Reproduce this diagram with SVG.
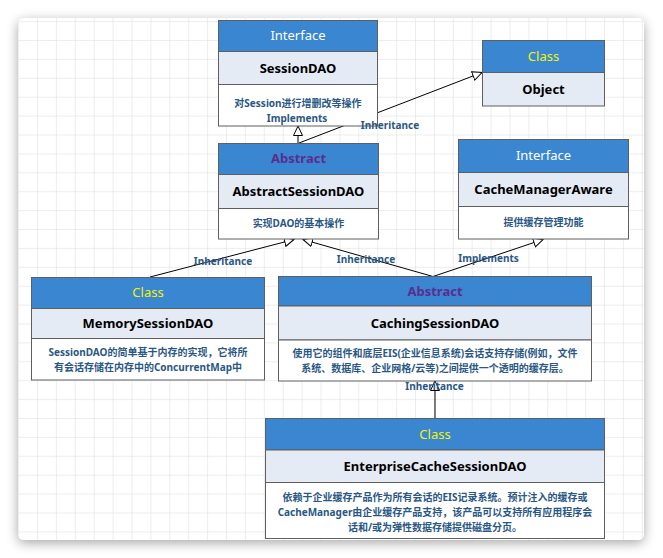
<svg xmlns="http://www.w3.org/2000/svg" width="663" height="558" viewBox="0 0 663 558">
<defs>
<filter id="sh" x="-10%" y="-10%" width="120%" height="120%">
<feDropShadow dx="0" dy="3" stdDeviation="6" flood-color="#000" flood-opacity="0.35"/>
</filter>
<pattern id="grid" patternUnits="userSpaceOnUse" x="18.1" y="21.1" width="18.9" height="18.9">
<path d="M0,0 H18.9 M0,0 V18.9" stroke="#dcdcdc" stroke-width="1" fill="none"/>
</pattern>
<marker id="tri" markerUnits="userSpaceOnUse" markerWidth="12" markerHeight="12" refX="10" refY="5" orient="auto">
<path d="M0.5,0.5 L10,5 L0.5,9.5 z" fill="#fff" stroke="#000" stroke-width="1"/>
</marker>
<style>
.hd{fill:#3a86d0;stroke:#5f5f5f;stroke-width:1}
.nm{fill:#e4ebf5;stroke:#5f5f5f;stroke-width:1}
.ds{fill:#fff;stroke:#5f5f5f;stroke-width:1}
text{font-family:"Noto Sans","Noto Sans CJK SC",sans-serif;text-anchor:middle}
.t-if{fill:#fff;font-size:13px}
.t-cl{fill:#f4f400;font-size:13px}
.t-ab{fill:#5a2d8f;font-size:13px;font-weight:bold}
.t-nm{fill:#000;font-size:13px;font-weight:bold}
.t-ds{fill:#2a5785;font-size:10px;font-weight:bold}
.lbl{fill:#2a5785;font-size:10px;font-weight:bold}
.ln{stroke:#000;stroke-width:1;fill:none;marker-end:url(#tri)}
</style>
</defs>
<rect x="0" y="0" width="663" height="558" fill="#fff"/>
<rect x="18" y="18" width="626" height="522" rx="6" fill="#fff" filter="url(#sh)"/>
<rect x="18" y="18" width="626" height="522" rx="6" fill="url(#grid)"/>

<g id="connectors">
<line class="ln" x1="298" y1="143" x2="298" y2="126"/>
<line class="ln" x1="299" y1="143" x2="482" y2="72.5"/>
<line class="ln" x1="150" y1="277" x2="294" y2="239.5"/>
<line class="ln" x1="433" y1="276.5" x2="303" y2="239.5"/>
<line class="ln" x1="433" y1="276.5" x2="543" y2="239.5"/>
<line class="ln" x1="435" y1="418" x2="435" y2="381"/>
</g>

<g id="SessionDAO">
<rect class="hd" x="218.5" y="20.5" width="159" height="31"/>
<rect class="nm" x="218.5" y="51.5" width="159" height="33"/>
<rect class="ds" x="218.5" y="84.5" width="159" height="41.5"/>
<text class="t-if" x="298" y="40">Interface</text>
<text class="t-nm" x="298" y="72.5">SessionDAO</text>
<text class="t-ds" x="298" y="107">对Session进行增删改等操作</text>
</g>

<g id="Object">
<rect class="hd" x="482.5" y="40.5" width="122" height="32"/>
<rect class="nm" x="482.5" y="72.5" width="122" height="33.5"/>
<text class="t-cl" x="543.5" y="61">Class</text>
<text class="t-nm" x="543.5" y="93.5">Object</text>
</g>

<g id="AbstractSessionDAO">
<rect class="hd" x="218.5" y="143.5" width="160" height="31"/>
<rect class="nm" x="218.5" y="174.5" width="160" height="34"/>
<rect class="ds" x="218.5" y="208.5" width="160" height="30.5"/>
<text class="t-ab" x="298.5" y="163">Abstract</text>
<text class="t-nm" x="298.5" y="196">AbstractSessionDAO</text>
<text class="t-ds" x="298.5" y="226.5">实现DAO的基本操作</text>
</g>

<g id="CacheManagerAware">
<rect class="hd" x="458.5" y="139.5" width="170" height="33"/>
<rect class="nm" x="458.5" y="172.5" width="170" height="34"/>
<rect class="ds" x="458.5" y="206.5" width="170" height="32.5"/>
<text class="t-if" x="543.5" y="160">Interface</text>
<text class="t-nm" x="543.5" y="193.5">CacheManagerAware</text>
<text class="t-ds" x="543.5" y="226">提供缓存管理功能</text>
</g>

<g id="MemorySessionDAO">
<rect class="hd" x="31.5" y="277.5" width="233" height="31"/>
<rect class="nm" x="31.5" y="308.5" width="233" height="30"/>
<rect class="ds" x="31.5" y="338.5" width="233" height="41.5"/>
<text class="t-cl" x="148" y="297">Class</text>
<text class="t-nm" x="148" y="327.5">MemorySessionDAO</text>
<text class="t-ds" x="148" y="355.5">SessionDAO的简单基于内存的实现，它将所</text>
<text class="t-ds" x="148" y="370.5">有会话存储在内存中的ConcurrentMap中</text>
</g>

<g id="CachingSessionDAO">
<rect class="hd" x="278.5" y="276.5" width="313" height="29.5"/>
<rect class="nm" x="278.5" y="306" width="313" height="34"/>
<rect class="ds" x="278.5" y="340" width="313" height="41"/>
<text class="t-ab" x="435" y="296">Abstract</text>
<text class="t-nm" x="435" y="327.5">CachingSessionDAO</text>
<text class="t-ds" x="435" y="356.5">使用它的组件和底层EIS(企业信息系统)会话支持存储(例如，文件</text>
<text class="t-ds" x="435" y="372">系统、数据库、企业网格/云等)之间提供一个透明的缓存层。</text>
</g>

<g id="EnterpriseCacheSessionDAO">
<rect class="hd" x="265.5" y="418.5" width="339" height="31.5"/>
<rect class="nm" x="265.5" y="450" width="339" height="32.5"/>
<rect class="ds" x="265.5" y="482.5" width="339" height="56"/>
<text class="t-cl" x="435" y="438.5">Class</text>
<text class="t-nm" x="435" y="470.5">EnterpriseCacheSessionDAO</text>
<text class="t-ds" x="435" y="501">依赖于企业缓存产品作为所有会话的EIS记录系统。预计注入的缓存或</text>
<text class="t-ds" x="435" y="516">CacheManager由企业缓存产品支持，该产品可以支持所有应用程序会</text>
<text class="t-ds" x="435" y="531">话和/或为弹性数据存储提供磁盘分页。</text>
</g>

<g id="labels">
<text class="lbl" x="297" y="121.5">Implements</text>
<text class="lbl" x="390" y="129">Inheritance</text>
<text class="lbl" x="223" y="265">Inheritance</text>
<text class="lbl" x="366" y="263">Inheritance</text>
<text class="lbl" x="488.5" y="262">Implements</text>
<text class="lbl" x="434.5" y="390">Inheritance</text>
</g>
</svg>
